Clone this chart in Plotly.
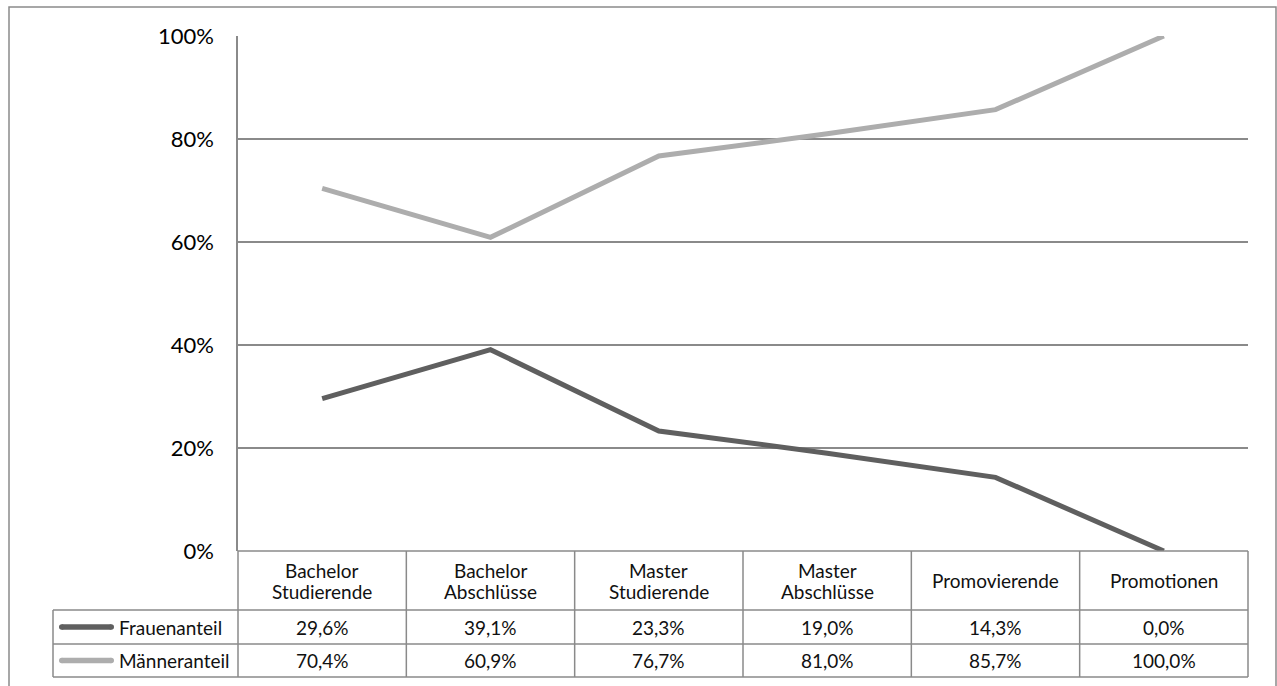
import plotly.graph_objects as go

# Series and category data
categories = ["Bachelor<br>Studierende", "Bachelor<br>Abschlüsse", "Master<br>Studierende",
              "Master<br>Abschlüsse", "Promovierende", "Promotionen"]
series_names = ["Frauenanteil", "Männeranteil"]
frauen = [29.6, 39.1, 23.3, 19.0, 14.3, 0.0]
maenner = [70.4, 60.9, 76.7, 81.0, 85.7, 100.0]
y_ticks = [0, 20, 40, 60, 80, 100]

W, H = 1277, 686
M_L, M_R, M_T, M_B = 238, 29, 36, 135
PW = W - M_L - M_R
PH = H - M_T - M_B

DARK = "#5f5f5f"
LIGHT = "#adadad"
GRID = "#8a8a8a"
TXT = "#111111"
FONT = "Lato"
TFS = 19


def px(x):
    """Pixel x to paper x."""
    return (x - M_L) / PW


def py(y):
    """Pixel y to paper y."""
    return (H - M_B - y) / PH


def fmt(v):
    return f"{v:.1f}".replace(".", ",") + "%"


n = len(categories)
xs = list(range(n))

fig = go.Figure()
for name, vals, col in [(series_names[0], frauen, DARK), (series_names[1], maenner, LIGHT)]:
    fig.add_trace(go.Scatter(
        x=xs, y=[v / 100 for v in vals], mode="lines", name=name,
        line=dict(color=col, width=5), showlegend=False, hoverinfo="skip",
    ))

shapes = []
annotations = []

# outer chart border
shapes.append(dict(type="rect", xref="paper", yref="paper",
                   x0=px(9), x1=px(1276), y0=py(700), y1=py(7),
                   line=dict(color=GRID, width=1.5), fillcolor="rgba(0,0,0,0)", layer="below"))

# data table grid
row_top, row1, row2, row_bot = H - M_B, 610, 644, 677
x_leg = 53
col_w = PW / n
col_edges = [M_L + i * col_w for i in range(n + 1)]
shapes.append(dict(type="line", xref="paper", yref="paper",
                   x0=px(M_L), x1=px(M_L + PW), y0=py(row_top), y1=py(row_top),
                   line=dict(color=GRID, width=1.5)))
for yy in [row1, row2, row_bot]:
    shapes.append(dict(type="line", xref="paper", yref="paper",
                       x0=px(x_leg), x1=px(M_L + PW), y0=py(yy), y1=py(yy),
                       line=dict(color=GRID, width=1.5)))
for xe in col_edges:
    shapes.append(dict(type="line", xref="paper", yref="paper",
                       x0=px(xe), x1=px(xe), y0=py(row_top), y1=py(row_bot),
                       line=dict(color=GRID, width=1.5)))
shapes.append(dict(type="line", xref="paper", yref="paper",
                   x0=px(x_leg), x1=px(x_leg), y0=py(row1), y1=py(row_bot),
                   line=dict(color=GRID, width=1.5)))

# category header cells, one annotation per text line for tighter spacing
head_c = (row_top + row1) / 2
line_gap = 21
for i, c in enumerate(categories):
    parts = c.split("<br>")
    k = len(parts)
    for j, part in enumerate(parts):
        yc = head_c + (j - (k - 1) / 2) * line_gap
        annotations.append(dict(x=i, xref="x", y=py(yc), yref="paper",
                                text=part, showarrow=False, xanchor="center", yanchor="middle",
                                font=dict(family=FONT, size=TFS, color=TXT)))

# series rows: legend key, name, values
key_x0, key_x1, key_w = 59, 114, 5.5
for (name, vals, col), (ya, yb) in zip(
        [(series_names[0], frauen, DARK), (series_names[1], maenner, LIGHT)],
        [(row1, row2), (row2, row_bot)]):
    yc = (ya + yb) / 2
    r = key_w / 2
    shapes.append(dict(type="line", xref="paper", yref="paper",
                       x0=px(key_x0 + r), x1=px(key_x1 - r), y0=py(yc), y1=py(yc),
                       line=dict(color=col, width=key_w)))
    for cx in (key_x0 + r, key_x1 - r):
        shapes.append(dict(type="circle", xref="paper", yref="paper",
                           x0=px(cx - r), x1=px(cx + r), y0=py(yc + r), y1=py(yc - r),
                           line=dict(width=0), fillcolor=col))
    annotations.append(dict(x=px(117), xref="paper", y=py(yc), yref="paper",
                            text=name, showarrow=False, xanchor="left", yanchor="middle",
                            font=dict(family=FONT, size=TFS, color=TXT)))
    for i, v in enumerate(vals):
        annotations.append(dict(x=i, xref="x", y=py(yc), yref="paper",
                                text=fmt(v), showarrow=False, xanchor="center", yanchor="middle",
                                font=dict(family=FONT, size=TFS, color=TXT)))

fig.update_layout(
    width=W, height=H, autosize=False,
    margin=dict(l=M_L, r=M_R, t=M_T, b=M_B, pad=0),
    paper_bgcolor="white", plot_bgcolor="white",
    shapes=shapes, annotations=annotations,
    xaxis=dict(range=[-0.5, n - 0.5], showgrid=False, showline=False, zeroline=False,
               showticklabels=False, ticks="", fixedrange=True),
    yaxis=dict(range=[0, 1], tickvals=[t / 100 for t in y_ticks],
               ticktext=[f"{t}%" for t in y_ticks],
               showgrid=True, gridcolor=GRID, gridwidth=1.5,
               showline=True, linecolor=GRID, linewidth=1.5,
               zeroline=False, ticks="", ticklabelstandoff=18,
               tickfont=dict(family=FONT, size=22, color="#000000"), fixedrange=True),
)

fig.write_html("out.html")
